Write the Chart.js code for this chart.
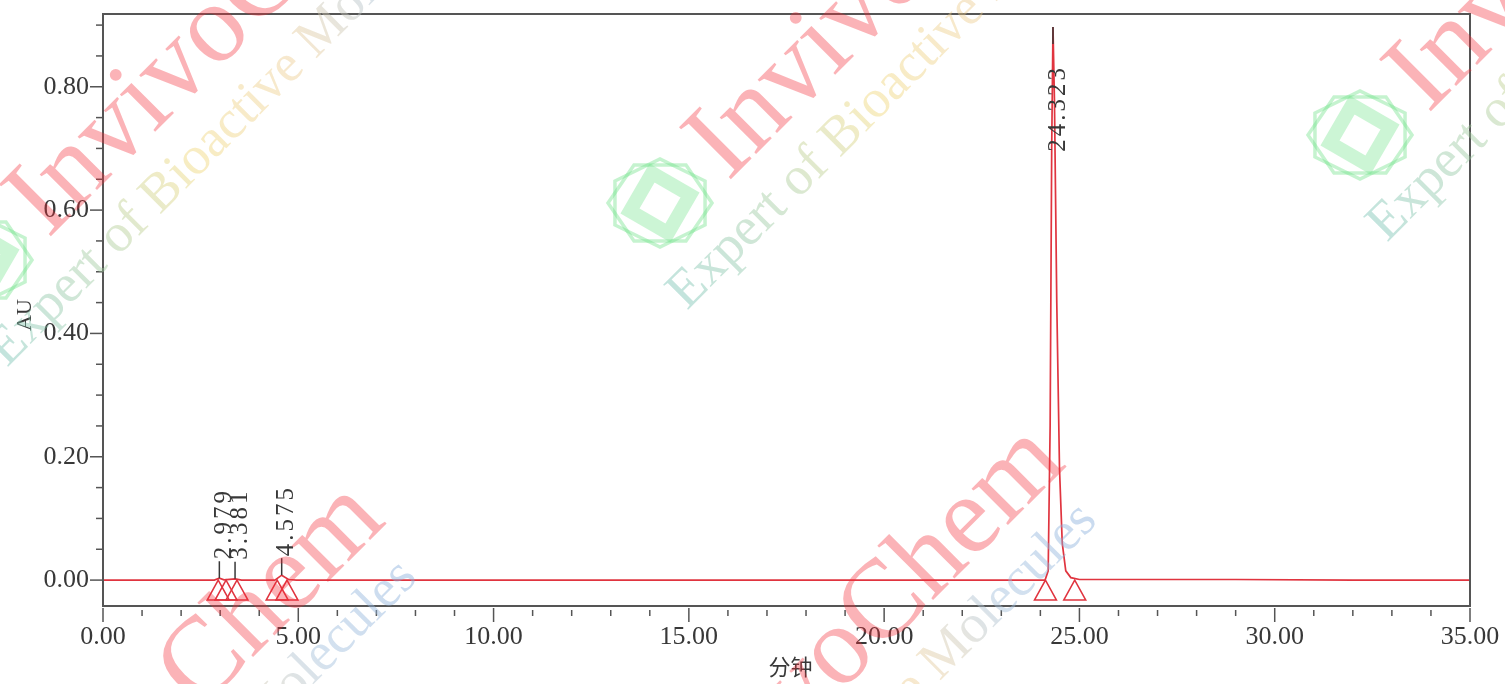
<!DOCTYPE html>
<html>
<head>
<meta charset="utf-8">
<script src="https://cdn.jsdelivr.net/npm/chart.js@4.4.1/dist/chart.umd.min.js"></script>
<style>
html, body { margin: 0; padding: 0; background: #fff; overflow: hidden; }
</style>
</head>
<body>
<canvas id="chromChart" width="1505" height="684"></canvas>
<script>
// chromatogram trace (minutes, AU)
const traceTime = [0, 2.85, 2.979, 3.1, 3.381, 3.55, 4.40, 4.575, 4.75, 4.95,
    24.12, 24.20, 24.25, 24.29, 24.323, 24.36, 24.42, 24.49, 24.56, 24.65, 24.78, 25.0, 29.0, 32.0, 35.0];
const traceAU = [0, 0, 0.003, 0.0005, 0.002, 0, 0, 0.008, 0.001, 0,
    0, 0.015, 0.25, 0.70, 0.897, 0.78, 0.45, 0.18, 0.06, 0.015, 0.004, 0.001, 0.001, 0, 0];

// integrated peaks
const peakTimes = [2.979, 3.381, 4.575, 24.323];
const peakHeights = [0.003, 0.002, 0.008, 0.897];
const peakLabels = ['2.979', '3.381', '4.575', '24.323'];
// peak start / end markers
const markerTimes = [2.95, 3.15, 3.43, 4.46, 4.71, 24.13, 24.88];

const xMajor = [0, 5, 10, 15, 20, 25, 30, 35];
const yMajor = [0, 0.2, 0.4, 0.6, 0.8];
const yMin = -0.042, yMax = 0.918;

const inkColor = '#383838';
const traceColor = '#e0343f';
const serif = '"Liberation Serif", "DejaVu Serif", serif';

function drawLogo(ctx, cx, cy) {
    ctx.save();
    ctx.translate(cx, cy);
    ctx.strokeStyle = 'rgba(110,225,135,0.4)';
    ctx.lineWidth = 3.5;
    [0, Math.PI / 6].forEach(off => {
        ctx.beginPath();
        for (let i = 0; i < 6; i++) {
            const a = off + i * Math.PI / 3;
            const px = Math.cos(a) * 52, py = Math.sin(a) * 44;
            if (i === 0) ctx.moveTo(px, py); else ctx.lineTo(px, py);
        }
        ctx.closePath();
        ctx.stroke();
    });
    // thick inner rhombus ring
    ctx.strokeStyle = 'rgba(120,230,145,0.38)';
    ctx.lineWidth = 14;
    ctx.beginPath();
    ctx.moveTo(-8, -30);
    ctx.lineTo(30, -8);
    ctx.lineTo(8, 30);
    ctx.lineTo(-30, 8);
    ctx.closePath();
    ctx.stroke();
    ctx.restore();
}

function drawWatermark(ctx) {
    const ang = -45 * Math.PI / 180;
    // baseline start of each "InvivoChem"
    const starts = [[48, 239], [728, 182], [1428, 114], [-8, 918], [672, 861]];
    starts.forEach(([sx, sy], n) => {
        if (n < 3) drawLogo(ctx, sx - 68, sy + 21);
        ctx.save();
        ctx.translate(sx, sy);
        ctx.rotate(ang);
        ctx.textBaseline = 'alphabetic';
        ctx.font = '112px ' + serif;
        ctx.fillStyle = 'rgba(245,45,55,0.36)';
        ctx.fillText('InvivoChem', 0, 0);

        const g = ctx.createLinearGradient(-120, 0, 570, 0);
        g.addColorStop(0, 'rgba(110,190,175,0.42)');
        g.addColorStop(0.22, 'rgba(160,200,150,0.42)');
        g.addColorStop(0.4, 'rgba(240,215,120,0.45)');
        g.addColorStop(0.62, 'rgba(235,200,140,0.42)');
        g.addColorStop(0.78, 'rgba(160,190,220,0.45)');
        g.addColorStop(1, 'rgba(130,170,220,0.45)');
        ctx.font = '54px ' + serif;
        ctx.fillStyle = g;
        ctx.fillText('Expert of Bioactive Molecules', -120, 62);
        ctx.restore();
    });
}

const chromPlugin = {
    id: 'chrom',
    afterDatasetsDraw(chart) {
        const ctx = chart.ctx;
        const xs = chart.scales.x, ys = chart.scales.y;
        const area = chart.chartArea;
        ctx.save();

        // frame
        ctx.strokeStyle = '#555';
        ctx.lineWidth = 2;
        ctx.strokeRect(area.left, area.top, area.right - area.left, area.bottom - area.top);

        // x ticks every minute
        ctx.lineWidth = 1.5;
        for (let t = 0; t <= 35; t++) {
            const px = xs.getPixelForValue(t);
            const major = t % 5 === 0;
            ctx.beginPath();
            ctx.moveTo(px, area.bottom + (major ? 2 : 4));
            ctx.lineTo(px, area.bottom + (major ? 16 : 10));
            ctx.stroke();
        }
        // y ticks every 0.05
        for (let k = 0; k <= 18; k++) {
            const v = k * 0.05;
            const py = ys.getPixelForValue(v);
            const major = k % 4 === 0;
            ctx.beginPath();
            ctx.moveTo(area.left - (major ? 13 : 7), py);
            ctx.lineTo(area.left, py);
            ctx.stroke();
        }

        // start / end triangles
        const base = ys.getPixelForValue(0);
        ctx.strokeStyle = traceColor;
        ctx.lineWidth = 1.5;
        markerTimes.forEach(t => {
            const px = xs.getPixelForValue(t);
            ctx.beginPath();
            ctx.moveTo(px, base);
            ctx.lineTo(px + 11, base + 20);
            ctx.lineTo(px - 11, base + 20);
            ctx.closePath();
            ctx.stroke();
        });

        // peak labels
        ctx.font = '25px ' + serif;
        ctx.letterSpacing = '3px';
        ctx.fillStyle = inkColor;
        ctx.strokeStyle = inkColor;
        ctx.lineWidth = 1.5;
        peakTimes.forEach((t, i) => {
            const px = xs.getPixelForValue(t);
            const apex = ys.getPixelForValue(peakHeights[i]);
            const len = ctx.measureText(peakLabels[i]).width;
            let lineTop = apex - 17;
            let textStart = lineTop - 2;
            ctx.beginPath();
            if (textStart - len < area.top + 10) {
                ctx.moveTo(px, apex);
                ctx.lineTo(px, apex + 17);
                textStart = area.top + 51 + len;
            } else {
                ctx.moveTo(px, apex);
                ctx.lineTo(px, lineTop);
            }
            ctx.stroke();
            ctx.save();
            ctx.translate(px + 5, textStart);
            ctx.rotate(-Math.PI / 2);
            ctx.textAlign = 'left';
            ctx.textBaseline = 'middle';
            ctx.fillText(peakLabels[i], 0, 0);
            ctx.restore();
        });
        ctx.letterSpacing = '0px';

        // axis titles
        ctx.fillStyle = inkColor;
        ctx.font = '22px "Noto Sans CJK SC", sans-serif';
        ctx.textAlign = 'center';
        ctx.textBaseline = 'middle';
        ctx.fillText('分钟', (area.left + area.right) / 2 + 4, 667);
        ctx.save();
        ctx.translate(25, (area.top + area.bottom) / 2 + 5);
        ctx.rotate(-Math.PI / 2);
        ctx.font = '22px ' + serif;
        ctx.fillText('AU', 0, 0);
        ctx.restore();

        ctx.restore();
    },
    afterDraw(chart) {
        drawWatermark(chart.ctx);
    }
};

function noPad(s) {
    s.paddingLeft = 0;
    s.paddingRight = 0;
    s.paddingTop = 0;
    s.paddingBottom = 0;
}

const ctx = document.getElementById('chromChart').getContext('2d');
const chart = new Chart(ctx, {
    type: 'line',
    data: {
        datasets: [{
            data: traceTime.map((t, i) => ({ x: t, y: traceAU[i] })),
            borderColor: traceColor,
            borderWidth: 1.7,
            pointRadius: 0,
            tension: 0,
            fill: false
        }]
    },
    options: {
        responsive: false,
        animation: false,
        devicePixelRatio: 1,
        layout: { padding: { top: 14, right: 35, left: 0, bottom: 0 } },
        plugins: { legend: { display: false }, tooltip: { enabled: false } },
        scales: {
            x: {
                type: 'linear',
                min: 0,
                max: 35,
                afterBuildTicks: s => { s.ticks = xMajor.map(v => ({ value: v })); },
                afterFit: s => { s.height = 78; noPad(s); },
                grid: { display: false, drawTicks: false },
                border: { display: false },
                ticks: {
                    padding: 16,
                    maxRotation: 0,
                    color: inkColor,
                    font: { family: serif, size: 26 },
                    callback: v => Number(v).toFixed(2)
                }
            },
            y: {
                min: yMin,
                max: yMax,
                afterBuildTicks: s => { s.ticks = yMajor.map(v => ({ value: v })); },
                afterFit: s => { s.width = 103; noPad(s); },
                grid: { display: false, drawTicks: false },
                border: { display: false },
                ticks: {
                    padding: 14,
                    color: inkColor,
                    font: { family: serif, size: 26 },
                    callback: v => Number(v).toFixed(2)
                }
            }
        }
    },
    plugins: [chromPlugin]
});
</script>
</body>
</html>
